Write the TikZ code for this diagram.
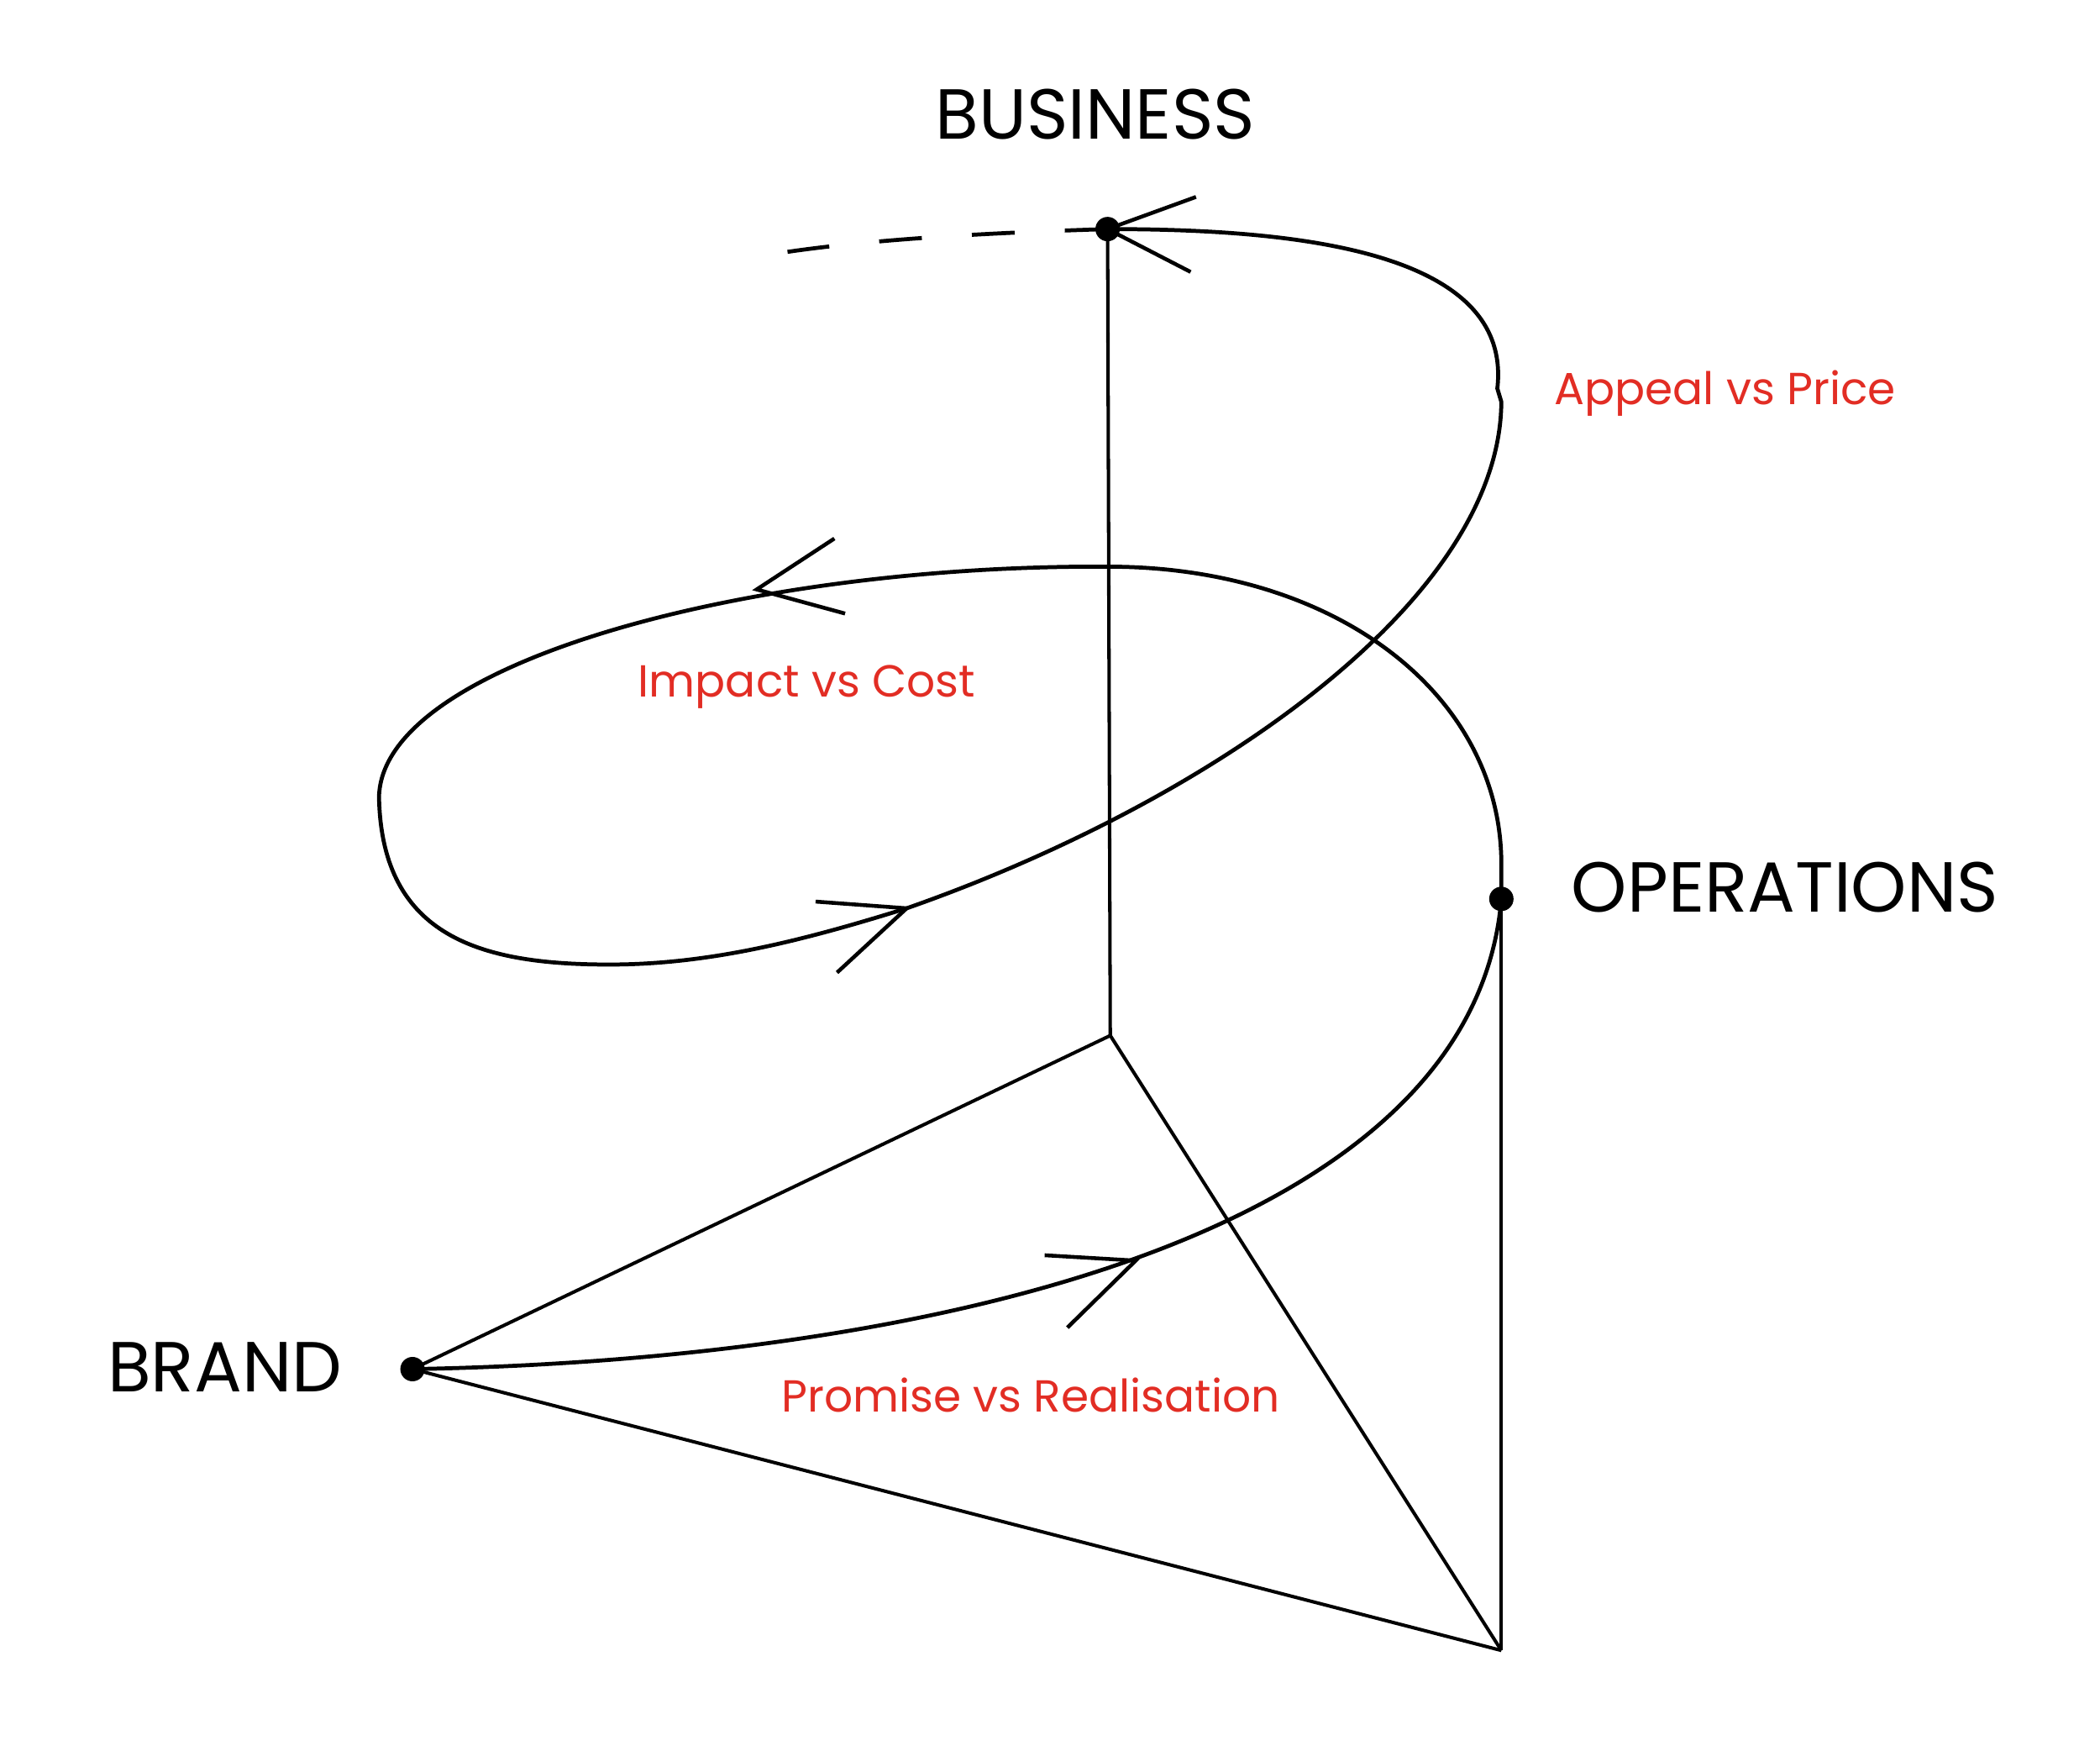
\documentclass[tikz,border=0pt]{standalone}
\usepackage{fontspec}
\setmainfont{Poppins}
\definecolor{tradeoff}{RGB}{226,45,36}
\begin{document}
\begin{tikzpicture}[x=0.015944cm,y=-0.015944cm,
    dot/.style={circle,fill=black,inner sep=0pt,minimum size=0.29cm},
    spiral/.style={line width=1.35pt,line join=round},
    frame/.style={line width=1.15pt},
    barb/.style={line width=1.3pt},
    corner/.style={font=\fontsize{24}{27}\selectfont,anchor=base west,inner sep=0pt},
    tradeoff/.style={font=\fontsize{15.2}{18}\selectfont,text=tradeoff,anchor=base west,inner sep=0pt}]
  \useasboundingbox (0,0) rectangle (1568,1307);
  \node[dot] (business) at (827,171) {};
  \node[dot] (operations) at (1121,671) {};
  \node[dot] (brand) at (308,1022) {};
  \coordinate (centre) at (829,773);
  \coordinate (base) at (1121,1232);
  \node[corner] (businesslabel) at (698,104) {BUSINESS};
  \node[corner] (operationslabel) at (1173,681) {OPERATIONS};
  \node[corner] (brandlabel) at (80,1039) {BRAND};
  \node[tradeoff] (appeal) at (1160,302) {Appeal vs Price};
  \node[tradeoff] (impact) at (476,520) {Impact vs Cost};
  \node[tradeoff] (promise) at (583,1054) {Promise vs Realisation};
  % the triangle
  \draw[frame] (business.center) -- (centre);
  \draw[frame] (centre) -- (brand.center);
  \draw[frame] (centre) -- (base);
  \draw[frame] (brand.center) -- (base);
  \draw[frame] (operations.center) -- (base);
  % the spiral
  \draw[spiral] (brand.center) .. controls (700,1015) and (1100,920) .. (operations.center)
    -- (1121,645) .. controls (1121,520) and (1000,424) .. (830,423)
    .. controls (560,421) and (285,495) .. (283,595)
    .. controls (285,700) and (360,720) .. (455,720)
    .. controls (530,720) and (600,702) .. (677,678)
    .. controls (900,600) and (1120,450) .. (1121,300)
    -- (1118,290) .. controls (1130,185) and (960,171) .. (business.center);
  \draw[spiral,dash pattern=on 14.5pt off 17pt] (business.center) .. controls (730,174) and (650,179) .. (588,188);
  % open arrow heads
  \coordinate (tip1) at (848,941);
  \coordinate (tip2) at (677,678);
  \coordinate (tip3) at (565,440);
  \draw[barb] (893,147) -- (business.center) -- (889,203);
  \draw[barb] (623,402) -- (tip3) -- (631,458);
  \draw[barb] (609,673) -- (tip2) -- (625,726);
  \draw[barb] (780,937) -- (tip1) -- (797,991);
\end{tikzpicture}
\end{document}
